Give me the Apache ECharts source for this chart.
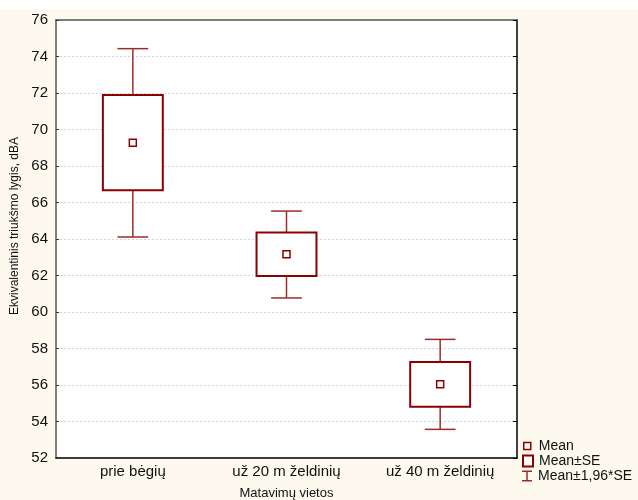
<!DOCTYPE html>
<html>
<head>
<meta charset="utf-8">
<script src="https://cdn.jsdelivr.net/npm/echarts@6/dist/echarts.min.js"></script>
<style>
  html, body { margin: 0; padding: 0; background: #ffffff; overflow: hidden; }
  #chart { position: fixed; left: 0; top: 0; width: 638px; height: 500px; }
</style>
</head>
<body>
<div id="chart"></div>
<script>
// Measurement locations
const categories = ['prie bėgių', 'už 20 m želdinių', 'už 40 m želdinių'];
// Mean noise level, dBA
const means = [69.28, 63.16, 56.04];
// Mean ± SE
const seLow = [66.67, 61.97, 54.81];
const seHigh = [71.89, 64.35, 57.26];
// Mean ± 1,96*SE
const ciLow = [64.11, 60.77, 53.57];
const ciHigh = [74.43, 65.53, 58.50];

const FONT = '"Liberation Sans", Arial, sans-serif';
const DARK_RED = '#8b0000';
const WHISKER_RED = '#9e2b2b';

const chart = echarts.init(document.getElementById('chart'));

const whiskerData = categories.map((c, i) => [i, ciLow[i], ciHigh[i]]);
const boxData = categories.map((c, i) => [i, seLow[i], seHigh[i]]);
const meanData = categories.map((c, i) => [i, means[i]]);

function renderWhisker(params, api) {
  const x = api.value(0);
  const lo = api.coord([x, api.value(1)]);
  const hi = api.coord([x, api.value(2)]);
  const half = api.size([1, 0])[0] * 0.1;
  const style = { stroke: WHISKER_RED, lineWidth: 1.5, fill: null };
  return {
    type: 'group',
    children: [
      { type: 'line', shape: { x1: lo[0], y1: lo[1], x2: hi[0], y2: hi[1] }, style },
      { type: 'line', shape: { x1: hi[0] - half, y1: hi[1], x2: hi[0] + half, y2: hi[1] }, style },
      { type: 'line', shape: { x1: lo[0] - half, y1: lo[1], x2: lo[0] + half, y2: lo[1] }, style }
    ]
  };
}

function renderBox(params, api) {
  const x = api.value(0);
  const lo = api.coord([x, api.value(1)]);
  const hi = api.coord([x, api.value(2)]);
  const w = api.size([1, 0])[0] * 0.39;
  return {
    type: 'rect',
    shape: { x: lo[0] - w / 2, y: hi[1], width: w, height: lo[1] - hi[1] },
    style: { fill: '#ffffff', stroke: DARK_RED, lineWidth: 2 }
  };
}

function renderMean(params, api) {
  const p = api.coord([api.value(0), api.value(1)]);
  const s = 7;
  return {
    type: 'rect',
    shape: { x: p[0] - s / 2, y: p[1] - s / 2, width: s, height: s },
    style: { fill: '#ffffff', stroke: DARK_RED, lineWidth: 1.5 }
  };
}

const legendText = { fontFamily: FONT, fontSize: 14, color: '#111111' };

const option = {
  backgroundColor: '#fdf9ef',
  animation: false,
  // thin white band along the top edge of the page
  graphic: [{
    type: 'rect', left: 0, top: 0, silent: true, z: -10,
    shape: { width: 638, height: 9 }, style: { fill: '#ffffff' }
  }],
  grid: {
    left: 56, top: 20, width: 461, height: 438,
    outerBoundsMode: 'none',
    show: true, backgroundColor: '#ffffff', borderWidth: 0
  },
  legend: [
    {
      left: 523, top: 439, padding: 0, selectedMode: false,
      itemWidth: 7, itemHeight: 7,
      textStyle: Object.assign({ padding: [0, 0, 0, 3] }, legendText),
      data: [{ name: 'Mean', icon: 'rect',
        itemStyle: { color: '#ffffff', borderColor: DARK_RED, borderWidth: 1.5 } }]
    },
    {
      left: 522, top: 454, padding: 0, selectedMode: false,
      itemWidth: 10, itemHeight: 11,
      textStyle: Object.assign({ padding: [0, 0, 0, 1] }, legendText),
      data: [{ name: 'Mean±SE', icon: 'rect',
        itemStyle: { color: '#ffffff', borderColor: DARK_RED, borderWidth: 2 } }]
    },
    {
      left: 522, top: 469, padding: 0, selectedMode: false,
      itemWidth: 10, itemHeight: 11,
      textStyle: Object.assign({ padding: [0, 0, 0, 1] }, legendText),
      data: [{ name: 'Mean±1,96*SE',
        icon: 'path://M0,0h10v1.5h-10z M4.25,0h1.5v11h-1.5z M0,9.5h10v1.5h-10z',
        itemStyle: { color: WHISKER_RED, borderWidth: 0 } }]
    }
  ],
  xAxis: [
    {
      type: 'category', data: categories, position: 'bottom',
      axisLine: { lineStyle: { color: '#000000', width: 1.5 } },
      axisTick: { inside: true, alignWithLabel: true, length: 4, lineStyle: { color: '#000000' } },
      axisLabel: { fontFamily: FONT, fontSize: 15, color: '#111111', margin: 6 },
      name: 'Matavimų vietos', nameLocation: 'middle', nameGap: 29,
      nameTextStyle: { fontFamily: FONT, fontSize: 13, color: '#111111' },
      splitLine: { show: false }
    },
    {
      type: 'category', data: categories, position: 'top',
      axisLine: { lineStyle: { color: '#555555', width: 1.5 } },
      axisTick: { inside: true, alignWithLabel: true, length: 4, lineStyle: { color: '#333333' } },
      axisLabel: { show: false },
      splitLine: { show: false }
    }
  ],
  yAxis: [
    {
      type: 'value', min: 52, max: 76, interval: 2, position: 'left',
      axisLine: { show: true, lineStyle: { color: '#555555', width: 1.5 } },
      axisTick: { show: true, inside: true, length: 3, lineStyle: { color: '#333333' } },
      axisLabel: { fontFamily: FONT, fontSize: 15, color: '#111111', margin: 8 },
      splitLine: { show: true, lineStyle: { color: '#d4d4d4', type: [2, 2], width: 1 } },
      name: 'Ekvivalentinis triukšmo lygis, dBA', nameLocation: 'middle', nameGap: 35,
      nameTextStyle: { fontFamily: FONT, fontSize: 12, color: '#111111', padding: [0, 0, 0, 26] }
    },
    {
      type: 'value', min: 52, max: 76, interval: 2, position: 'right',
      axisLine: { show: true, lineStyle: { color: '#000000', width: 1.5 } },
      axisTick: { show: true, inside: true, length: 4, lineStyle: { color: '#000000' } },
      axisLabel: { show: false },
      splitLine: { show: false }
    }
  ],
  series: [
    {
      name: 'Mean±1,96*SE', type: 'custom', xAxisIndex: 0, yAxisIndex: 0,
      renderItem: renderWhisker, data: whiskerData,
      encode: { x: 0, y: [1, 2] }, itemStyle: { color: WHISKER_RED }
    },
    {
      name: 'Mean±SE', type: 'custom', xAxisIndex: 0, yAxisIndex: 0,
      renderItem: renderBox, data: boxData,
      encode: { x: 0, y: [1, 2] }, itemStyle: { color: DARK_RED }
    },
    {
      name: 'Mean', type: 'custom', xAxisIndex: 0, yAxisIndex: 0,
      renderItem: renderMean, data: meanData,
      encode: { x: 0, y: 1 }, itemStyle: { color: DARK_RED }
    }
  ]
};

chart.setOption(option);
</script>
</body>
</html>
